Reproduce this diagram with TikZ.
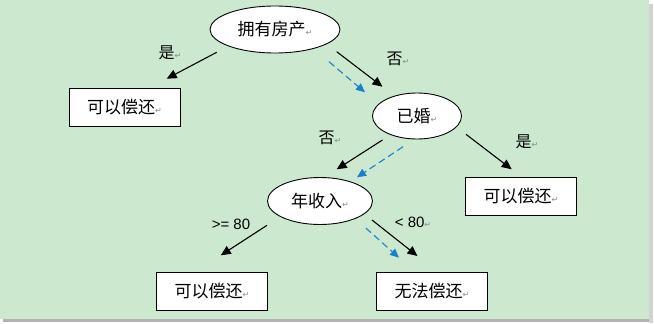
\documentclass[tikz,border=0pt]{standalone}
\usepackage{fontspec}
\setmainfont{Liberation Sans}
\newfontfamily\cjk{Noto Sans CJK SC}
\newfontfamily\dvs{DejaVu Sans}
\usetikzlibrary{shapes.geometric,arrows.meta}
\definecolor{bggreen}{HTML}{CCE8CF}
\definecolor{pathblue}{HTML}{1A7FD0}
\definecolor{markgray}{HTML}{8A8A8A}
\newcommand{\pmark}{{\dvs\fontsize{8pt}{8pt}\selectfont\textcolor{markgray}{↵}}}
\tikzset{
  oval/.style={ellipse, draw=black, line width=0.9pt, fill=white, inner sep=0pt},
  leafbox/.style={rectangle, draw=black, line width=0.9pt, fill=white, minimum width=111pt, minimum height=38pt, inner sep=0pt},
  ntext/.style={font=\cjk\fontsize{17pt}{17pt}\selectfont},
  elabel/.style={font=\cjk\fontsize{16pt}{16pt}\selectfont, inner sep=0pt},
  nlabel/.style={font=\fontsize{15pt}{15pt}\selectfont, inner sep=0pt},
  branch/.style={line width=1.1pt, -{Triangle[length=10pt,width=9pt]}},
  trace/.style={line width=1.1pt, pathblue, dash pattern=on 7pt off 4pt, -{Triangle[length=9pt,width=8pt]}},
}
\begin{document}
\begin{tikzpicture}[x=1pt,y=-1pt]
\useasboundingbox (0,0) rectangle (654,324);
% background with shadow
\fill[gray!60] (3,4) rectangle (652,322);
\fill[gray!35] (649,4) rectangle (653,323);
\fill[bggreen] (0,0) rectangle (649,319);

% nodes
\node[oval, ntext, minimum width=130pt, minimum height=47pt] (root) at (275,29.5) {拥有房产\pmark};
\node[leafbox, ntext] (leafA) at (124.5,107) {可以偿还\pmark};
\node[oval, ntext, minimum width=89pt, minimum height=46pt] (married) at (417,116) {已婚\pmark};
\node[leafbox, ntext] (leafB) at (521,196) {可以偿还\pmark};
\node[oval, ntext, minimum width=105pt, minimum height=47pt] (income) at (320,201) {年收入\pmark};
\node[leafbox, ntext] (leafC) at (212,291) {可以偿还\pmark};
\node[leafbox, ntext] (leafD) at (432,291) {无法偿还\pmark};

% connector end points
\coordinate (r1s) at (216.7,52.3); \coordinate (r1e) at (166.7,78.7);
\coordinate (r2s) at (336.7,51.7); \coordinate (r2e) at (382.5,86.7);
\coordinate (b1s) at (329,61.7);   \coordinate (b1e) at (365,92.3);
\coordinate (m1s) at (382.5,140);  \coordinate (m1e) at (336.7,169.3);
\coordinate (b2s) at (403,146.7);  \coordinate (b2e) at (357,177.3);
\coordinate (m2s) at (466,134.3);  \coordinate (m2e) at (511.7,169.3);
\coordinate (i1s) at (267,225.3);  \coordinate (i1e) at (220.8,255.3);
\coordinate (i2s) at (372,220);    \coordinate (i2e) at (417.5,256);
\coordinate (b3s) at (365.8,228);  \coordinate (b3e) at (399,257.7);

\draw[branch] (r1s) -- (r1e);
\draw[branch] (r2s) -- (r2e);
\draw[trace] (b1s) -- (b1e);
\draw[branch] (m1s) -- (m1e);
\draw[trace] (b2s) -- (b2e);
\draw[branch] (m2s) -- (m2e);
\draw[branch] (i1s) -- (i1e);
\draw[branch] (i2s) -- (i2e);
\draw[trace] (b3s) -- (b3e);

% edge labels
\node[elabel] (l1) at (170,52.7) {是\pmark};
\node[elabel] (l2) at (398,59.3) {否\pmark};
\node[elabel] (l3) at (330,137.7) {否\pmark};
\node[elabel] (l4) at (527,141.7) {是\pmark};
\node[nlabel] (l5) at (231,224) {>= 80};
\node[nlabel] (l6) at (413,222.7) {< 80\pmark};
\end{tikzpicture}
\end{document}
